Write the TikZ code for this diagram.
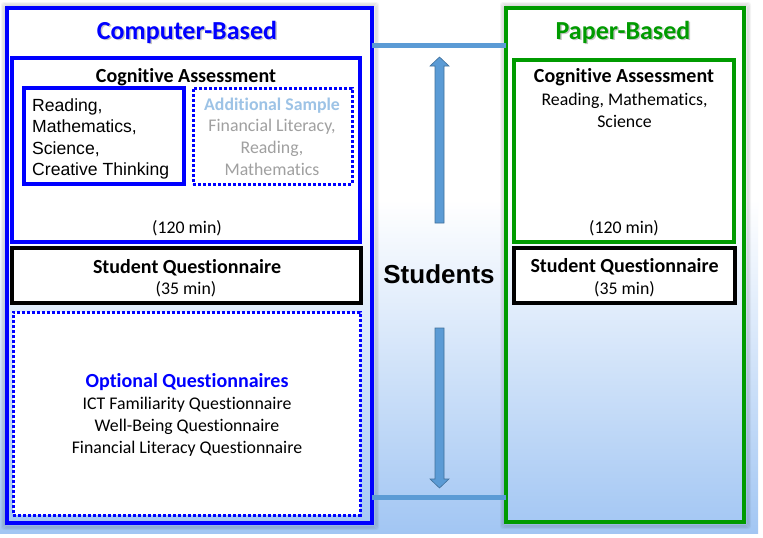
\documentclass[tikz,border=0pt]{standalone}
\usepackage{fontspec}
\setmainfont{Carlito}[Ligatures=NoCommon]
\newfontfamily\arialfont{Liberation Sans}
\usetikzlibrary{positioning}
\definecolor{cbblue}{RGB}{0,0,255}
\definecolor{pbgreen}{RGB}{0,155,0}
\definecolor{linkblue}{RGB}{91,155,213}
\definecolor{linkedge}{RGB}{65,113,156}
\definecolor{bgblue}{RGB}{162,198,243}
\definecolor{addblue}{RGB}{157,195,230}
\definecolor{softgray}{RGB}{160,160,160}
\newcommand{\fs}[1]{\fontsize{#1}{1.2\dimexpr #1pt\relax}\selectfont}
\begin{document}
\begin{tikzpicture}[x=1pt,y=-1pt,
  box/.style 2 args={draw, line width=3.2pt, fill=white, minimum width=#1, minimum height=#2, inner sep=0pt},
  dotbox/.style 2 args={draw=cbblue, line width=3pt, dash pattern=on 3pt off 2pt, minimum width=#1, minimum height=#2, inner sep=0pt},
  txt/.style={inner sep=0pt, anchor=base, align=center},
  title/.style={txt, font=\fs{26}\bfseries},
  head/.style={txt, font=\fs{20}\bfseries},
  body/.style={txt, font=\fs{17.8}},
  listline/.style={inner sep=0pt, anchor=base west, font=\arialfont\fs{17.6}},
  link/.style={draw=linkblue, line width=5pt},
  bigarrow/.style={fill=linkblue, draw=linkedge, line width=0.6pt, line join=miter}
]
\useasboundingbox (0,0) rectangle (763,538);
% page background: white at the top, fading to light blue
\fill[white] (0,0) rectangle (763,538);
\shade[top color=white, bottom color=bgblue] (0,200) rectangle (758,533);

% soft halo behind the two outer panels
\foreach \d/\o in {5/0.04,4/0.05,3/0.06,2/0.07}{
  \draw[black, opacity=\o, line width=2pt, rounded corners=2pt]
    (7-\d,8-\d) rectangle (372+\d+1,523+\d+1);
  \draw[black, opacity=\o, line width=2pt, rounded corners=2pt]
    (506-\d,8-\d) rectangle (744+\d+1,522+\d+1);
}

% outer panels
\draw[cbblue, line width=3.4pt] (7,8) rectangle (372,523);
\coordinate (cbNE) at (372,8);
\coordinate (cbSE) at (372,523);
\draw[pbgreen, line width=3.4pt] (506,8) rectangle (744,522);
\coordinate (pbNW) at (506,8);
\coordinate (pbSW) at (506,522);

% panel titles with a soft drop shadow
\node[title, text=black, opacity=0.22] at (188.5,40.5) {Computer-Based};
\node[title, text=cbblue] (cbtitle) at (187,39) {Computer-Based};
\node[title, text=black, opacity=0.22] at (624.5,40.5) {Paper-Based};
\node[title, text=pbgreen] (pbtitle) at (623,39) {Paper-Based};

% ---------- computer-based column ----------
\node[box={348pt}{184pt}, draw=cbblue] (cbcog) at (186,150) {};
\node[head] (cbcogt) at (186,82) {Cognitive Assessment};
\node[box={160pt}{96pt}, draw=cbblue] (core) at (104,136) {};
\node[listline] (core1) at (32,111) {Reading,};
\node[listline] (core2) at (32,132.5) {Mathematics,};
\node[listline] (core3) at (32,154) {Science,};
\node[listline] (core4) at (32,175) {Creative Thinking};
\node[dotbox={159pt}{96pt}] (extra) at (272.5,136) {};
\node[txt, font=\fs{17.8}\bfseries, text=addblue] (extrat) at (272,110) {Additional Sample};
\node[body, text=softgray] (extra1) at (272,131) {Financial Literacy,};
\node[body, text=softgray] (extra2) at (272,153) {Reading,};
\node[body, text=softgray] (extra3) at (272,175) {Mathematics};
\node[body] (cbtime) at (187,233) {(120 min)};

\node[box={349pt}{55pt}, draw=black, line width=4pt] (cbsq) at (186.5,275.5) {};
\node[head] (cbsqt) at (187,273) {Student Questionnaire};
\node[body] (cbsqtime) at (186,294) {(35 min)};

\node[dotbox={347pt}{203pt}, fill=white] (opt) at (186.5,413.5) {};
\node[head, text=cbblue] (optt) at (187,387) {Optional Questionnaires};
\node[body] (opt1) at (187,409) {ICT Familiarity Questionnaire};
\node[body] (opt2) at (187,431) {Well-Being Questionnaire};
\node[body] (opt3) at (187,453) {Financial Literacy Questionnaire};

% ---------- paper-based column ----------
\node[box={220pt}{182pt}, draw=pbgreen] (pbcog) at (624,151) {};
\node[head] (pbcogt) at (624,82) {Cognitive Assessment};
\node[body] (pbdom1) at (624.5,105) {Reading, Mathematics,};
\node[body] (pbdom2) at (624.5,127) {Science};
\node[body] (pbtime) at (624,233) {(120 min)};

\node[box={221pt}{55pt}, draw=black, line width=4pt] (pbsq) at (624.5,275.5) {};
\node[head] (pbsqt) at (624.5,272) {Student Questionnaire};
\node[body] (pbsqtime) at (624.5,294) {(35 min)};

% ---------- students between the two modes ----------
\draw[link] (cbNE |- 0,45) -- (pbNW |- 0,45);
\draw[link] (cbSE |- 0,497) -- (pbSW |- 0,497);
\node[txt, font=\arialfont\bfseries\fs{26}] (students) at (439,283) {Students};

% upward arrow
\draw[bigarrow] (435,223) -- (435,66) -- (430,66) -- (439.5,57) -- (449,66) -- (444,66) -- (444,223) -- cycle;
% downward arrow
\draw[bigarrow] (435,328) -- (435,479) -- (430,479) -- (439.5,488) -- (449,479) -- (444,479) -- (444,328) -- cycle;
\end{tikzpicture}
\end{document}
